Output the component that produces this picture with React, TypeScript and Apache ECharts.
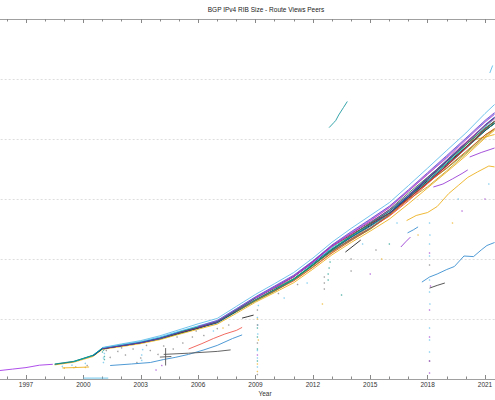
import React, { useEffect, useRef } from "react";
import * as echarts from "echarts";

// x values are stored as years after AXIS_ORIGIN so that 3-year ticks land on 1997, 2000, ...
const AXIS_ORIGIN = 1994;
const tickYears = [1997, 2000, 2003, 2006, 2009, 2012, 2015, 2018, 2021];

// Sample years shared by the main bundle of peers (values in thousands of prefixes);
// each peer array covers the last N of these years.
const bundleYears = [
  1998.5, 1999.5, 2000.5, 2001, 2002, 2003, 2004, 2005, 2006, 2007, 2008, 2009,
  2010, 2011, 2012, 2013, 2014, 2015, 2016, 2017, 2018, 2019, 2020, 2021, 2021.5,
];

const peerYellow = [47, 56, 75, 99, 108, 118, 131, 149, 166, 183, 219, 256, 288, 321, 366, 414, 455, 493, 533, 584, 637, 690, 744, 803, 829];
const peerDkTeal = [49, 58, 78, 101, 111, 121, 134, 153, 170, 187, 224, 261, 294, 331, 380, 432, 477, 519, 559, 608, 659, 710, 768, 827, 853];
const peerGreen = [123, 134, 151, 170, 191, 225, 260, 292, 331, 382, 426, 463, 499, 547, 604, 655, 702, 754, 813, 833];
const peerGold = [329, 374, 422, 467, 509, 549, 598, 641, 694, 750, 807, 833];
const peerCyan = [58, 79, 104, 113, 122, 135, 156, 175, 192, 228, 263, 295, 333, 384, 438, 479, 515, 553, 602, 659, 718, 780, 841, 867];
const peerOrange = [226, 262, 294, 327, 372, 420, 461, 501, 545, 600, 653, 704, 758, 813, 835];
const peerRed = [426, 467, 503, 543, 594, 651, 710, 770, 831, 859];
const peerBlue = [77, 102, 111, 122, 137, 157, 173, 192, 232, 272, 308, 341, 386, 434, 473, 509, 553, 610, 671, 730, 788, 847, 873];
const peerTeal = [50, 59, 79, 103, 113, 123, 137, 155, 172, 189, 227, 264, 297, 331, 378, 429, 473, 515, 559, 613, 667, 720, 774, 829, 851];
const peerBlack = [77, 101, 111, 121, 135, 153, 170, 189, 226, 264, 298, 333, 380, 430, 472, 512, 553, 607, 661, 716, 772, 828, 852];
const peerGray = [379, 426, 465, 503, 549, 606, 665, 724, 782, 837, 859];
const peerDarkRed = [304, 341, 390, 442, 481, 517, 553, 602, 655, 712, 772, 833, 859];
const peerOlive = [156, 173, 192, 231, 270, 302, 335, 380, 432, 477, 520, 565, 620, 673, 726, 780, 835, 857];
const peerNavy = [551, 608, 667, 726, 786, 845, 871];
const peerSky = [104, 115, 125, 140, 159, 177, 195, 234, 273, 308, 345, 394, 446, 489, 531, 575, 628, 685, 742, 800, 859, 885];
const peerPink = [483, 527, 571, 626, 683, 736, 790, 845, 867];
const peerPlum = [101, 111, 121, 135, 154, 171, 190, 229, 269, 305, 342, 392, 444, 485, 523, 563, 614, 671, 728, 786, 845, 871];
const peerViolet = [175, 195, 234, 274, 310, 346, 393, 447, 491, 533, 576, 631, 688, 745, 803, 862, 888];
const peerMagenta = [270, 305, 341, 389, 442, 486, 528, 571, 626, 682, 739, 797, 856, 882];

// Individual peer tracks as [year, thousand prefixes]
const purpleEarly = [[1995.6, 28], [1996.3, 33], [1997.0, 38], [1997.7, 46], [1998.4, 49]];
const skyHigh = [
  [2001, 105], [2002, 117], [2003, 128], [2004, 144], [2005, 164], [2006, 184], [2007, 202],
  [2008, 242], [2009, 282], [2010, 318], [2011, 355], [2012, 403], [2013, 456], [2014, 502],
  [2015, 545], [2016, 588], [2017, 645], [2018, 703], [2019, 762], [2020, 820], [2021, 885], [2021.5, 915],
];
const skySpike = [[2021.25, 1020], [2021.4, 1045]];
const tealHigh = [[2012.85, 838], [2013.1, 855], [2013.2, 862], [2013.35, 880], [2013.6, 905], [2013.8, 925]];
const orangeLow = [
  [2016.9, 528], [2017.4, 545], [2018.0, 555], [2018.5, 575], [2019.1, 618], [2019.6, 645],
  [2020.1, 672], [2020.6, 690], [2021.2, 710], [2021.5, 707],
];
const orangeUpper = [[2020.1, 790], [2020.6, 800], [2021.1, 808], [2021.5, 815]];
const purpleLowA = [[2018.3, 640], [2018.8, 650], [2019.3, 667], [2019.8, 685], [2020.1, 697]];
const purpleLowB = [[2020.2, 740], [2020.8, 755], [2021.5, 770]];
const purpleShort = [[2016.6, 440], [2016.85, 457], [2017.1, 473]];
const blueLow = [
  [2017.7, 323], [2018.1, 340], [2018.5, 350], [2019.0, 365], [2019.4, 375], [2019.9, 410],
  [2020.4, 408], [2020.8, 430], [2021.1, 445], [2021.5, 455],
];
const blueShort = [[2016.95, 487], [2017.25, 497], [2017.5, 507]];
const blackShortA = [[2013.7, 423], [2014.1, 443], [2014.5, 463]];
const blackShortB = [[2018.1, 303], [2018.5, 312], [2018.9, 320]];
const blackShortC = [[2008.3, 203], [2008.6, 208], [2008.9, 213]];
const grayEarly = [[2004.2, 82], [2005.5, 86], [2007.0, 92], [2007.7, 97]];
const redEarly = [[2005.5, 100], [2006.2, 118], [2006.8, 135], [2007.4, 150], [2008.0, 162], [2008.3, 172]];
const steelEarly = [
  [2001.4, 45], [2002.5, 50], [2003.5, 55], [2004.2, 65], [2004.8, 72], [2005.5, 82],
  [2006.3, 97], [2007.0, 112], [2007.8, 135], [2008.3, 147],
];
const orangeEarly = [[1998.9, 37], [1999.5, 38], [2000.3, 40]];
const skyFloor = [[2000.0, 3], [2001.3, 3]];
const grayDropV = [[2004.3, 45], [2004.3, 103]];
const grayDropH = [[2004.0, 73], [2004.6, 75]];

// Dropped / partial tables seen from individual peers
const dotsSky = [
  [1998.9, 42], [1999.4, 46], [2000.1, 52], [2001.05, 55], [2001.05, 70], [2001.1, 85],
  [2003.05, 62], [2003.05, 80], [2003.1, 98], [2009.1, 40], [2009.1, 95], [2009.12, 150],
  [2009.1, 205], [2009.15, 245], [2018.1, 90], [2018.1, 170], [2018.12, 250], [2018.1, 330],
  [2018.1, 410], [2018.12, 480], [2018.1, 520], [2019.6, 600], [2021.2, 650], [2009.1, 70],
  [2009.12, 180], [2018.1, 130], [2018.1, 290], [2018.1, 450], [2006.8, 160], [2010.5, 270],
  [2011.7, 320], [2014.6, 450], [2016.4, 520],
];
const dotsGray = [
  [2001.4, 72], [2001.8, 92], [2002.2, 80], [2002.6, 100], [2003.0, 70], [2003.5, 95],
  [2003.9, 82], [2004.2, 110], [2004.7, 100], [2005.2, 120], [2005.7, 140], [2006.3, 145],
  [2007.0, 168], [2009.1, 120], [2009.1, 180], [2012.6, 300], [2012.6, 340], [2014.0, 360],
  [2015.3, 430], [2018.1, 60], [2002.8, 55], [2000.2, 45], [1999.6, 40], [2001.2, 95],
  [2002.0, 104], [2003.3, 112], [2004.9, 140], [2005.9, 160], [2007.6, 180], [2009.1, 230],
  [2009.1, 15], [2010.2, 285], [2011.2, 315], [2012.6, 320], [2014.0, 400], [2018.1, 380],
];
const dotsTeal = [
  [2001.0, 90], [2001.05, 96], [2001.1, 100], [2009.1, 60], [2009.1, 170], [2012.8, 350],
  [2012.85, 370], [2012.9, 390], [2013.5, 280], [2016.0, 450], [2001.1, 75], [2001.1, 65],
  [2009.1, 140], [2009.1, 100], [2012.8, 330],
];
const dotsOrange = [
  [1999.0, 36], [1999.5, 38], [2000.1, 39], [2009.1, 25], [2009.15, 130], [2012.5, 250],
  [2015.6, 400], [2017.5, 480], [2019.3, 520], [2009.1, 50], [2009.1, 200], [2007.3, 170],
];
const dotsPurple = [
  [2003.8, 30], [2004.1, 45], [2009.1, 80], [2015.0, 350], [2018.1, 140], [2018.1, 230],
  [2018.15, 310], [2018.1, 420], [2019.8, 560], [2021.0, 600], [2018.1, 20], [2018.1, 60],
];

const FONT = "'Liberation Sans', Arial, sans-serif";

function alignFrom(values: number[]) {
  const start = bundleYears.length - values.length;
  return values.map((v, k) => [bundleYears[start + k] - AXIS_ORIGIN, v]);
}

function shift(points: number[][]) {
  return points.map(([y, v]) => [y - AXIS_ORIGIN, v]);
}

function line(name: string, color: string, data: number[][], width = 0.9) {
  return {
    type: "line",
    name,
    data,
    symbol: "none",
    showSymbol: false,
    silent: true,
    lineStyle: { color, width },
    itemStyle: { color },
  };
}

function dots(name: string, color: string, data: number[][]) {
  return {
    type: "scatter",
    name,
    data: shift(data),
    symbolSize: 1.5,
    silent: true,
    itemStyle: { color, opacity: 0.7 },
  };
}

export default function App() {
  const ref = useRef<HTMLDivElement>(null);

  useEffect(() => {
    if (!ref.current) return;
    const chart = echarts.init(ref.current, undefined, { renderer: "svg" });

    const xBase = {
      type: "value",
      min: 0,
      max: 30,
      interval: 3,
      axisLine: { show: true, lineStyle: { color: "#a0a0a0", width: 1 } },
      axisTick: { show: true, inside: true, length: 4, lineStyle: { color: "#888" } },
      minorTick: { show: true, splitNumber: 3, length: 2.5, lineStyle: { color: "#888" } },
      splitLine: { show: false },
      minorSplitLine: { show: false },
    };

    const series: any[] = [
      dots("sky drops", "#5bbde9", dotsSky),
      dots("gray drops", "#7a7a7a", dotsGray),
      dots("teal drops", "#1a9a8a", dotsTeal),
      dots("orange drops", "#EDB120", dotsOrange),
      dots("purple drops", "#a040d0", dotsPurple),
      line("purple early", "#a63be8", shift(purpleEarly)),
      line("steel early", "#3b8fd0", shift(steelEarly)),
      line("red early", "#ef5a50", shift(redEarly)),
      line("gray early", "#555555", shift(grayEarly)),
      line("orange early", "#EDB120", shift(orangeEarly)),
      line("sky floor", "#5bbde9", shift(skyFloor)),
      line("gray drop v", "#555555", shift(grayDropV)),
      line("gray drop h", "#555555", shift(grayDropH)),
      line("black c", "#222222", shift(blackShortC)),
      line("black a", "#222222", shift(blackShortA)),
      line("black b", "#444444", shift(blackShortB)),
      line("blue low", "#3b8fd0", shift(blueLow)),
      line("blue short", "#3b8fd0", shift(blueShort)),
      line("purple low a", "#9b3fd6", shift(purpleLowA)),
      line("purple low b", "#9b3fd6", shift(purpleLowB)),
      line("purple short", "#9b3fd6", shift(purpleShort)),
      line("orange low", "#EDB120", shift(orangeLow)),
      line("orange upper", "#EDB120", shift(orangeUpper)),
      line("teal high", "#1f9aa0", shift(tealHigh)),
      line("sky spike", "#62bdea", shift(skySpike)),
      line("yellow", "#EDB120", alignFrom(peerYellow)),
      line("dark teal", "#0f6f73", alignFrom(peerDkTeal)),
      line("green", "#77AC30", alignFrom(peerGreen)),
      line("gold", "#c9a227", alignFrom(peerGold)),
      line("black", "#111111", alignFrom(peerBlack)),
      line("cyan", "#17becf", alignFrom(peerCyan)),
      line("orange", "#D95319", alignFrom(peerOrange)),
      line("red", "#e0463c", alignFrom(peerRed)),
      line("teal", "#138d8a", alignFrom(peerTeal)),
      line("blue", "#0072BD", alignFrom(peerBlue)),
      line("gray", "#6b6b6b", alignFrom(peerGray)),
      line("dark red", "#A2142F", alignFrom(peerDarkRed)),
      line("olive", "#2e8b57", alignFrom(peerOlive)),
      line("navy", "#283c8c", alignFrom(peerNavy)),
      line("sky", "#4DBEEE", alignFrom(peerSky)),
      line("pink", "#e377c2", alignFrom(peerPink)),
      line("plum", "#7E2F8E", alignFrom(peerPlum)),
      line("violet", "#8a3ccf", alignFrom(peerViolet)),
      line("magenta", "#c23bd4", alignFrom(peerMagenta)),
      line("sky high", "#62bdea", shift(skyHigh)),
    ];

    chart.setOption({
      animation: false,
      backgroundColor: "#ffffff",
      title: {
        text: "BGP IPv4 RIB Size - Route Views Peers",
        left: 266,
        top: 6,
        padding: 0,
        textAlign: "center",
        textStyle: { fontSize: 6.5, fontWeight: "normal", color: "#222", fontFamily: FONT },
      },
      grid: { left: -31.375, right: -47.375, top: 19, bottom: 21, outerBoundsMode: "none" },
      xAxis: [
        {
          ...xBase,
          position: "bottom",
          axisLabel: {
            show: true,
            margin: 2,
            fontSize: 6.5,
            color: "#333",
            fontFamily: FONT,
            formatter: (v: number) =>
              tickYears.includes(Math.round(v) + AXIS_ORIGIN) ? String(Math.round(v) + AXIS_ORIGIN) : "",
          },
        },
        { ...xBase, position: "top", axisLabel: { show: false } },
      ],
      yAxis: {
        type: "value",
        min: 0,
        max: 1200,
        interval: 200,
        axisLine: { show: false },
        axisTick: { show: false },
        axisLabel: { show: false },
        splitLine: { show: true, lineStyle: { color: "#dedede", width: 1, type: [2, 2] } },
      },
      graphic: [
        {
          type: "text",
          x: 265,
          y: 393,
          style: {
            text: "Year",
            fontSize: 6.5,
            fill: "#333",
            fontFamily: FONT,
            align: "center",
            verticalAlign: "middle",
          },
        },
      ],
      series,
    });

    return () => chart.dispose();
  }, []);

  return (
    <div
      ref={ref}
      style={{
        position: "fixed",
        left: 0,
        top: 0,
        width: 495,
        height: 400,
        overflow: "hidden",
        background: "#fff",
      }}
    />
  );
}
